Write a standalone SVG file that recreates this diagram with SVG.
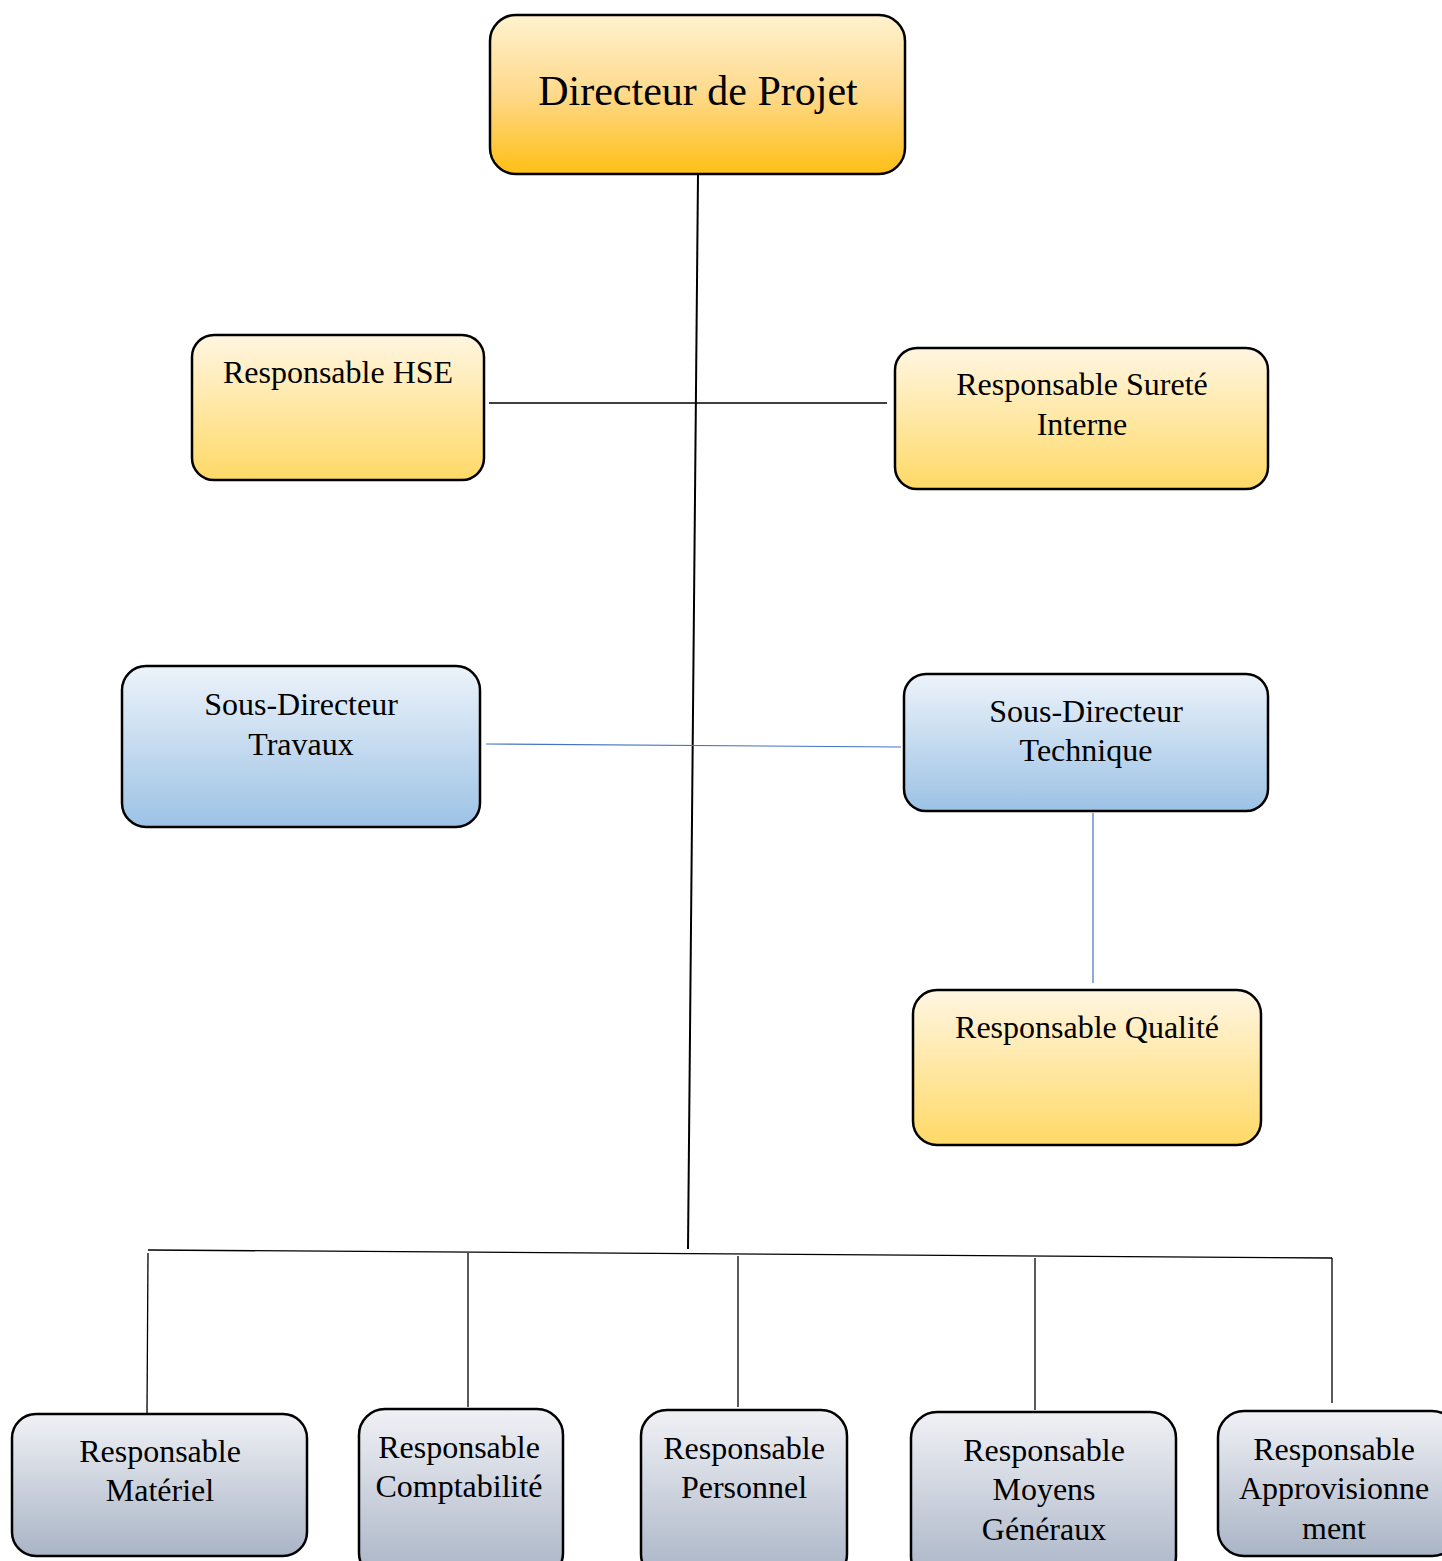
<svg xmlns="http://www.w3.org/2000/svg" width="1442" height="1561" viewBox="0 0 1442 1561">
<defs>
<linearGradient id="gTop" x1="0" y1="0" x2="0" y2="1">
<stop offset="0" stop-color="#fff2cf"/><stop offset="0.5" stop-color="#fed98a"/><stop offset="1" stop-color="#ffbf14"/>
</linearGradient>
<linearGradient id="gYel" x1="0" y1="0" x2="0" y2="1">
<stop offset="0" stop-color="#fff6e2"/><stop offset="1" stop-color="#ffd966"/>
</linearGradient>
<linearGradient id="gBlue" x1="0" y1="0" x2="0" y2="1">
<stop offset="0" stop-color="#edf3fa"/><stop offset="1" stop-color="#9cc2e5"/>
</linearGradient>
<linearGradient id="gGrey" x1="0" y1="0" x2="0" y2="1">
<stop offset="0" stop-color="#f0f1f5"/><stop offset="1" stop-color="#a9b4c6"/>
</linearGradient>
</defs>
<style>
.box{stroke:#000;stroke-width:2.5}
.t{font-family:"Liberation Serif","Times New Roman",serif;font-size:32px;fill:#000;text-anchor:middle}
.k{stroke:#000;stroke-width:1.3;fill:none}
.b{stroke:#4472c4;stroke-width:1.2;fill:none}
</style>
<g id="connectors">
<line class="k" x1="698" y1="175" x2="688" y2="1249" style="stroke-width:2"/>
<line class="k" x1="489" y1="403" x2="887" y2="403"/>
<line class="b" x1="486" y1="744" x2="901" y2="747"/>
<line class="b" x1="1093" y1="813" x2="1093" y2="983"/>
<line class="k" x1="148" y1="1250" x2="1332" y2="1258"/>
<line class="k" x1="148" y1="1253" x2="147" y2="1414"/>
<line class="k" x1="468" y1="1253" x2="468" y2="1407"/>
<line class="k" x1="738" y1="1256" x2="738" y2="1407"/>
<line class="k" x1="1035" y1="1258" x2="1035" y2="1410"/>
<line class="k" x1="1332" y1="1258" x2="1332" y2="1403"/>
</g>
<g id="directeur">
<rect class="box" x="490" y="15" width="415" height="159" rx="26" fill="url(#gTop)"/>
<text class="t" x="698" y="105" style="font-size:42px">Directeur de Projet</text>
</g>
<g id="hse">
<rect class="box" x="192" y="335" width="292" height="145" rx="22" fill="url(#gYel)"/>
<text class="t" x="338" y="383">Responsable HSE</text>
</g>
<g id="surete">
<rect class="box" x="895" y="348" width="373" height="141" rx="22" fill="url(#gYel)"/>
<text class="t" x="1082" y="395">Responsable Sureté</text>
<text class="t" x="1082" y="435">Interne</text>
</g>
<g id="travaux">
<rect class="box" x="122" y="666" width="358" height="161" rx="24" fill="url(#gBlue)"/>
<text class="t" x="301" y="715">Sous-Directeur</text>
<text class="t" x="301" y="755">Travaux</text>
</g>
<g id="technique">
<rect class="box" x="904" y="674" width="364" height="137" rx="22" fill="url(#gBlue)"/>
<text class="t" x="1086" y="722">Sous-Directeur</text>
<text class="t" x="1086" y="761">Technique</text>
</g>
<g id="qualite">
<rect class="box" x="913" y="990" width="348" height="155" rx="24" fill="url(#gYel)"/>
<text class="t" x="1087" y="1038">Responsable Qualité</text>
</g>
<g id="materiel">
<rect class="box" x="12" y="1414" width="295" height="142" rx="24" fill="url(#gGrey)"/>
<text class="t" x="160" y="1462">Responsable</text>
<text class="t" x="160" y="1501">Matériel</text>
</g>
<g id="comptabilite">
<rect class="box" x="359" y="1409" width="204" height="170" rx="26" fill="url(#gGrey)"/>
<text class="t" x="459" y="1458">Responsable</text>
<text class="t" x="459" y="1497">Comptabilité</text>
</g>
<g id="personnel">
<rect class="box" x="641" y="1410" width="206" height="170" rx="26" fill="url(#gGrey)"/>
<text class="t" x="744" y="1459">Responsable</text>
<text class="t" x="744" y="1498">Personnel</text>
</g>
<g id="moyens">
<rect class="box" x="911" y="1412" width="265" height="170" rx="26" fill="url(#gGrey)"/>
<text class="t" x="1044" y="1461">Responsable</text>
<text class="t" x="1044" y="1500">Moyens</text>
<text class="t" x="1044" y="1540">Généraux</text>
</g>
<g id="approvisionnement">
<rect class="box" x="1218" y="1411" width="240" height="145" rx="26" fill="url(#gGrey)"/>
<text class="t" x="1334" y="1460">Responsable</text>
<text class="t" x="1334" y="1499">Approvisionne</text>
<text class="t" x="1334" y="1539">ment</text>
</g>
</svg>
